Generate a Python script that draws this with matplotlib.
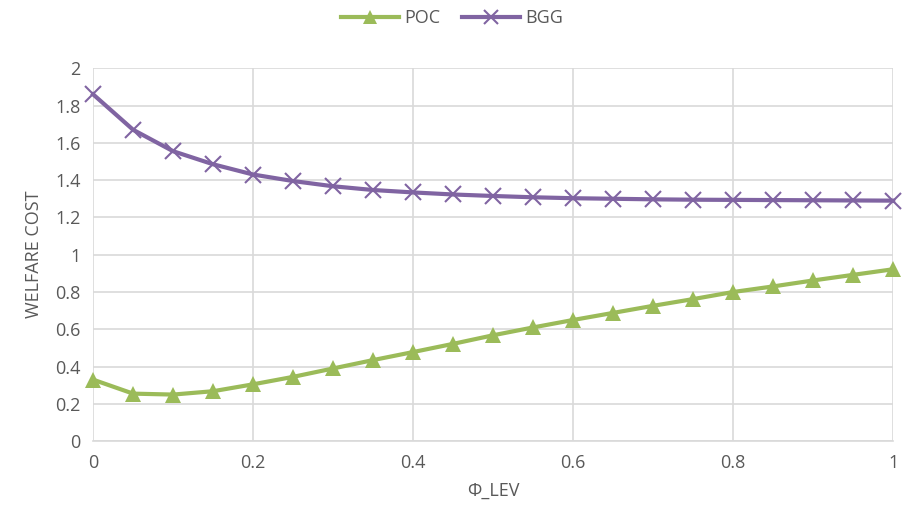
import matplotlib.pyplot as plt

plt.rcParams['font.family'] = ['Open Sans', 'DejaVu Sans']

phi_lev = [0, 0.05, 0.1, 0.15, 0.2, 0.25, 0.3, 0.35, 0.4, 0.45, 0.5,
           0.55, 0.6, 0.65, 0.7, 0.75, 0.8, 0.85, 0.9, 0.95, 1.0]
poc = [0.33, 0.255, 0.25, 0.268, 0.305, 0.345, 0.39, 0.435, 0.478, 0.522, 0.568,
       0.61, 0.65, 0.688, 0.726, 0.762, 0.80, 0.83, 0.862, 0.892, 0.922]
bgg = [1.86, 1.67, 1.555, 1.485, 1.43, 1.395, 1.367, 1.347, 1.334, 1.323, 1.315,
       1.308, 1.303, 1.300, 1.297, 1.295, 1.294, 1.293, 1.292, 1.291, 1.290]

text_col = '#595959'
grid_col = '#D9D9D9'

fig = plt.figure(figsize=(9.04, 5.29), dpi=100)
ax = fig.add_axes([0.103, 0.166, 0.885, 0.705])

ax.plot(phi_lev, poc, color='#9BBB59', lw=3, marker='^', ms=11,
        markeredgewidth=0, label='POC', clip_on=False, zorder=3)
ax.plot(phi_lev, bgg, color='#8064A2', lw=3, marker='x', ms=11,
        markeredgewidth=1.5, label='BGG', clip_on=False, zorder=3)

ax.set_xlim(0, 1)
ax.set_ylim(0, 2)
ax.set_xticks([0, 0.2, 0.4, 0.6, 0.8, 1])
ax.set_xticklabels(['0', '0.2', '0.4', '0.6', '0.8', '1'])
ax.set_yticks([0, 0.2, 0.4, 0.6, 0.8, 1, 1.2, 1.4, 1.6, 1.8, 2])
ax.set_yticklabels(['0', '0.2', '0.4', '0.6', '0.8', '1', '1.2', '1.4', '1.6', '1.8', '2'])
ax.grid(True, color=grid_col, lw=1.2)
ax.set_axisbelow(True)
for s in ['top', 'right', 'left']:
    ax.spines[s].set_visible(False)
ax.spines['bottom'].set_color(grid_col)
ax.spines['bottom'].set_linewidth(1.2)
ax.tick_params(length=0, labelsize=13, colors=text_col, pad=9)

ax.set_xlabel('Φ_LEV', fontsize=13, color=text_col, labelpad=7)
ax.set_ylabel('WELFARE COST', fontsize=13, color=text_col, labelpad=9)

fig.legend(loc='center', bbox_to_anchor=(0.5, 0.966), ncol=2, frameon=False,
           fontsize=13, labelcolor=text_col, handlelength=3.2, columnspacing=1.2,
           handletextpad=0.3, markerscale=0.9)

fig.savefig('out.png', dpi=100)
